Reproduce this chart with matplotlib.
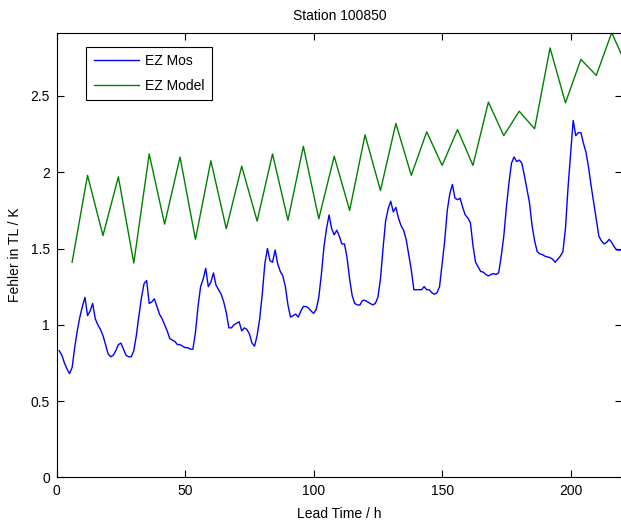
import matplotlib
matplotlib.use("Agg")
import matplotlib.pyplot as plt
import numpy as np

# Lead time (h) and errors
mos_hours = np.arange(1, 221)
mos_values = [
    0.83, 0.80, 0.75, 0.71, 0.68, 0.72, 0.85, 0.96, 1.05, 1.12,
    1.18, 1.06, 1.09, 1.14, 1.04, 1.00, 0.97, 0.93, 0.87, 0.81,
    0.79, 0.80, 0.83, 0.87, 0.88, 0.84, 0.80, 0.79, 0.79, 0.83,
    0.93, 1.06, 1.18, 1.27, 1.29, 1.14, 1.15, 1.17, 1.12, 1.07,
    1.04, 1.00, 0.96, 0.91, 0.90, 0.89, 0.87, 0.87, 0.86, 0.85,
    0.85, 0.84, 0.84, 0.95, 1.12, 1.25, 1.30, 1.37, 1.25, 1.28,
    1.34, 1.26, 1.23, 1.20, 1.15, 1.08, 0.98, 0.98, 1.00, 1.01,
    1.02, 0.96, 0.98, 0.97, 0.94, 0.88, 0.86, 0.93, 1.04, 1.20,
    1.40, 1.50, 1.42, 1.41, 1.49, 1.40, 1.35, 1.32, 1.25, 1.13,
    1.05, 1.06, 1.07, 1.05, 1.09, 1.12, 1.12, 1.11, 1.09, 1.075,
    1.10, 1.18, 1.33, 1.51, 1.63, 1.72, 1.63, 1.59, 1.62, 1.58,
    1.53, 1.53, 1.44, 1.30, 1.19, 1.14, 1.13, 1.13, 1.16, 1.16,
    1.15, 1.14, 1.13, 1.14, 1.18, 1.30, 1.50, 1.68, 1.76, 1.81,
    1.74, 1.77, 1.70, 1.65, 1.62, 1.56, 1.46, 1.36, 1.23, 1.23,
    1.23, 1.23, 1.25, 1.23, 1.23, 1.21, 1.20, 1.21, 1.25, 1.40,
    1.55, 1.75, 1.86, 1.92, 1.83, 1.82, 1.83, 1.77, 1.72, 1.70,
    1.67, 1.52, 1.41, 1.38, 1.35, 1.345, 1.33, 1.32, 1.33, 1.335,
    1.33, 1.34, 1.45, 1.58, 1.77, 1.93, 2.06, 2.10, 2.07, 2.08,
    2.06, 1.98, 1.89, 1.80, 1.65, 1.55, 1.48, 1.465, 1.46, 1.45,
    1.445, 1.44, 1.43, 1.41, 1.43, 1.45, 1.48, 1.63, 1.90, 2.12,
    2.34, 2.24, 2.26, 2.26, 2.19, 2.13, 2.03, 1.91, 1.80, 1.69,
    1.58, 1.55, 1.53, 1.54, 1.56, 1.54, 1.51, 1.49, 1.49, 1.49,
]

model_hours = np.arange(6, 223, 6)
model_values = [
    1.41, 1.98, 1.585, 1.97, 1.405, 2.12, 1.66, 2.10, 1.56, 2.075,
    1.63, 2.04, 1.68, 2.12, 1.685, 2.17, 1.695, 2.105, 1.75, 2.245,
    1.88, 2.32, 1.98, 2.265, 2.045, 2.28, 2.045, 2.46, 2.24, 2.40,
    2.285, 2.815, 2.455, 2.74, 2.635, 2.915, 2.69,
]

plt.rcParams['font.family'] = ['Liberation Sans', 'DejaVu Sans']

fig = plt.figure(figsize=(6.21, 5.24), dpi=100)
ax = fig.add_axes([0.0913, 0.0891, 0.9103, 0.8485])

ax.plot(mos_hours, mos_values, color=(0, 0, 1), lw=1.0, label='EZ Mos')
ax.plot(model_hours, model_values, color=(0, 0.5, 0), lw=1.0, label='EZ Model')

ax.set_xlim(0, 220)
ax.set_ylim(0, 2.915)
ax.set_xticks([0, 50, 100, 150, 200])
ax.set_yticks([0, 0.5, 1, 1.5, 2, 2.5])
ax.set_yticklabels(['0', '0.5', '1', '1.5', '2', '2.5'])
ax.tick_params(direction='in', top=True, right=True, length=5, width=0.8,
               labelsize=10, pad=5)
for s in ax.spines.values():
    s.set_linewidth(0.8)

ax.set_title('Station 100850', fontsize=10, pad=9)
ax.set_xlabel('Lead Time / h', fontsize=10, labelpad=6)
ax.set_ylabel('Fehler in TL / K', fontsize=10, labelpad=6)

leg = ax.legend(loc='upper left', bbox_to_anchor=(0.052, 0.9685), fontsize=10,
                handlelength=3.25, handletextpad=0.45, labelspacing=0.75,
                borderpad=0.55, borderaxespad=0, fancybox=False, framealpha=1)
leg.get_frame().set_edgecolor('black')
leg.get_frame().set_linewidth(0.8)

fig.savefig('out.png', dpi=100)
